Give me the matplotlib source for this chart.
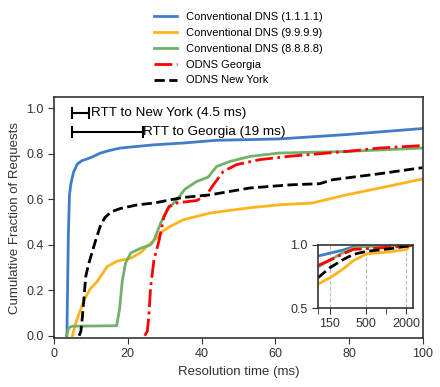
import matplotlib
matplotlib.use('Agg')
import matplotlib.pyplot as plt

plt.rcParams['font.family'] = ['Liberation Sans', 'DejaVu Sans']

# main panel: resolution time (ms) vs cumulative fraction
blue_x = [3.5, 3.9, 4.2, 4.6, 5.3, 6.3, 7.5, 9.0, 10.4, 12.6, 15, 18, 27, 35, 44, 61, 79, 100]
blue_y = [0, 0.45, 0.62, 0.67, 0.72, 0.755, 0.77, 0.778, 0.787, 0.804, 0.815, 0.826, 0.84, 0.848, 0.86, 0.866, 0.885, 0.912]

orange_x = [5.0, 5.8, 6.8, 8.6, 9.9, 11.7, 14.4, 17.2, 20.8, 23.5, 25.7, 27.8, 29.5, 31.4, 35, 42.3, 53, 61, 70, 79.3, 88.3, 100]
orange_y = [0, 0.05, 0.098, 0.171, 0.208, 0.238, 0.304, 0.329, 0.341, 0.366, 0.40, 0.43, 0.46, 0.48, 0.51, 0.54, 0.563, 0.576, 0.584, 0.62, 0.65, 0.69]

green_x = [3.4, 4.0, 5.0, 17.0, 17.8, 18.5, 19.4, 20.8, 23.5, 26.2, 27.1, 28.9, 30.7, 33.4, 35.5, 38.7, 41.8, 44.1, 47.7, 53.1, 61, 79.3, 100]
green_y = [0, 0.035, 0.042, 0.044, 0.12, 0.24, 0.32, 0.364, 0.385, 0.40, 0.42, 0.495, 0.554, 0.60, 0.645, 0.679, 0.698, 0.745, 0.767, 0.789, 0.804, 0.811, 0.826]

red_x = [24.6, 25.3, 25.7, 26.2, 27.1, 28.5, 29.8, 31.2, 33.2, 36, 38.7, 41.4, 43.2, 45.9, 49.5, 55.8, 64, 79.3, 88.3, 100]
red_y = [0, 0.02, 0.083, 0.215, 0.333, 0.42, 0.524, 0.569, 0.584, 0.59, 0.595, 0.62, 0.664, 0.723, 0.753, 0.775, 0.79, 0.811, 0.826, 0.837]

black_x = [6.8, 7.3, 7.7, 8.2, 8.6, 9.3, 10.2, 11.3, 12.5, 13.8, 15.5, 18, 22.6, 27.1, 34.8, 42.3, 53, 64, 72, 75.7, 88.3, 100]
black_y = [0, 0.02, 0.083, 0.18, 0.26, 0.31, 0.36, 0.42, 0.48, 0.52, 0.545, 0.56, 0.576, 0.584, 0.608, 0.62, 0.65, 0.664, 0.669, 0.687, 0.713, 0.74]

# inset: tail of the distributions (log x)
in_blue_x = [100, 150, 235, 330, 500, 1000, 2000, 2500]
in_blue_y = [0.912, 0.935, 0.96, 0.985, 0.99, 0.995, 1.0, 1.0]
in_orange_x = [100, 150, 235, 330, 520, 1150, 2000, 2300, 2500]
in_orange_y = [0.69, 0.74, 0.81, 0.875, 0.93, 0.945, 0.965, 1.0, 1.0]
in_green_x = [100, 150, 235, 330, 500, 1000, 2500]
in_green_y = [0.826, 0.88, 0.94, 0.975, 0.99, 0.995, 1.0]
in_red_x = [100, 150, 235, 330, 730, 2000, 2500]
in_red_y = [0.837, 0.88, 0.93, 0.965, 0.975, 0.99, 1.0]
in_black_x = [100, 150, 235, 330, 520, 1150, 2000, 2500]
in_black_y = [0.74, 0.82, 0.885, 0.925, 0.95, 0.97, 0.99, 1.0]

labels = ["Conventional DNS (1.1.1.1)", "Conventional DNS (9.9.9.9)", "Conventional DNS (8.8.8.8)",
          "ODNS Georgia", "ODNS New York"]
rtt_ny = 4.5
rtt_ga = 19

c_blue = '#3f7dc8'
c_orange = '#fdb41e'
c_green = '#72b16a'

fig = plt.figure(figsize=(4.4, 3.87), dpi=100)
ax = fig.add_axes([0.1227, 0.1266, 0.8383, 0.6224])

ax.plot(blue_x, blue_y, color=c_blue, lw=2, label=labels[0])
ax.plot(orange_x, orange_y, color=c_orange, lw=2, label=labels[1])
ax.plot(green_x, green_y, color=c_green, lw=2, label=labels[2])
ax.plot(red_x, red_y, color='red', lw=2, ls='-.', label=labels[3])
ax.plot(black_x, black_y, color='black', lw=2, ls='--', label=labels[4])

# RTT bars
ax.errorbar(5 + rtt_ny / 2, 0.978, xerr=rtt_ny / 2, color='black', capsize=4, lw=1.5, capthick=1.5)
ax.text(5 + rtt_ny + 0.4, 0.978, "RTT to New York (4.5 ms)", va='center', ha='left', fontsize=9.7)
ax.errorbar(5 + rtt_ga / 2, 0.898, xerr=rtt_ga / 2, color='black', capsize=4, lw=1.5, capthick=1.5)
ax.text(5 + rtt_ga + 0.1, 0.898, "RTT to Georgia (19 ms)", va='center', ha='left', fontsize=9.7)

ax.set_xlim(0, 100)
ax.set_ylim(-0.01, 1.05)
ax.set_xticks([0, 20, 40, 60, 80, 100])
ax.set_yticks([0.0, 0.2, 0.4, 0.6, 0.8, 1.0])
ax.tick_params(labelsize=9, direction='out', length=4, colors='#333333')
ax.set_xlabel("Resolution time (ms)", fontsize=9.5, color='#333333')
ax.set_ylabel("Cumulative Fraction of Requests", fontsize=9.5, color='#333333')
for s in ax.spines.values():
    s.set_color('#333333')
    s.set_linewidth(1.2)

ax.legend(loc='lower center', bbox_to_anchor=(0.5, 1.0), frameon=False, fontsize=8,
          handlelength=2.1, handletextpad=0.8, labelspacing=0.52, borderaxespad=0.65)

# inset
ins = fig.add_axes([0.7227, 0.204, 0.216, 0.163])
ins.plot(in_blue_x, in_blue_y, color=c_blue, lw=2)
ins.plot(in_orange_x, in_orange_y, color=c_orange, lw=2)
ins.plot(in_green_x, in_green_y, color=c_green, lw=2)
ins.plot(in_red_x, in_red_y, color='red', lw=2, ls='-.')
ins.plot(in_black_x, in_black_y, color='black', lw=2, ls='--')
ins.set_xscale('log')
ins.set_xlim(100, 2500)
ins.set_ylim(0.5, 1.0)
ins.set_xticks([150, 500, 2000])
ins.set_xticklabels(['150', '500', '2000'])
ins.set_xticks([100, 1000], minor=True)
ins.set_xticklabels([], minor=True)
ins.set_yticks([0.5, 1.0])
ins.grid(axis='x', which='major', ls='--', color='#bbbbbb', lw=0.8)
ins.tick_params(which='both', labelsize=9, direction='out', length=4, colors='#333333')
for s in ins.spines.values():
    s.set_color('#333333')
    s.set_linewidth(1.2)

fig.savefig('out.png', dpi=100)
